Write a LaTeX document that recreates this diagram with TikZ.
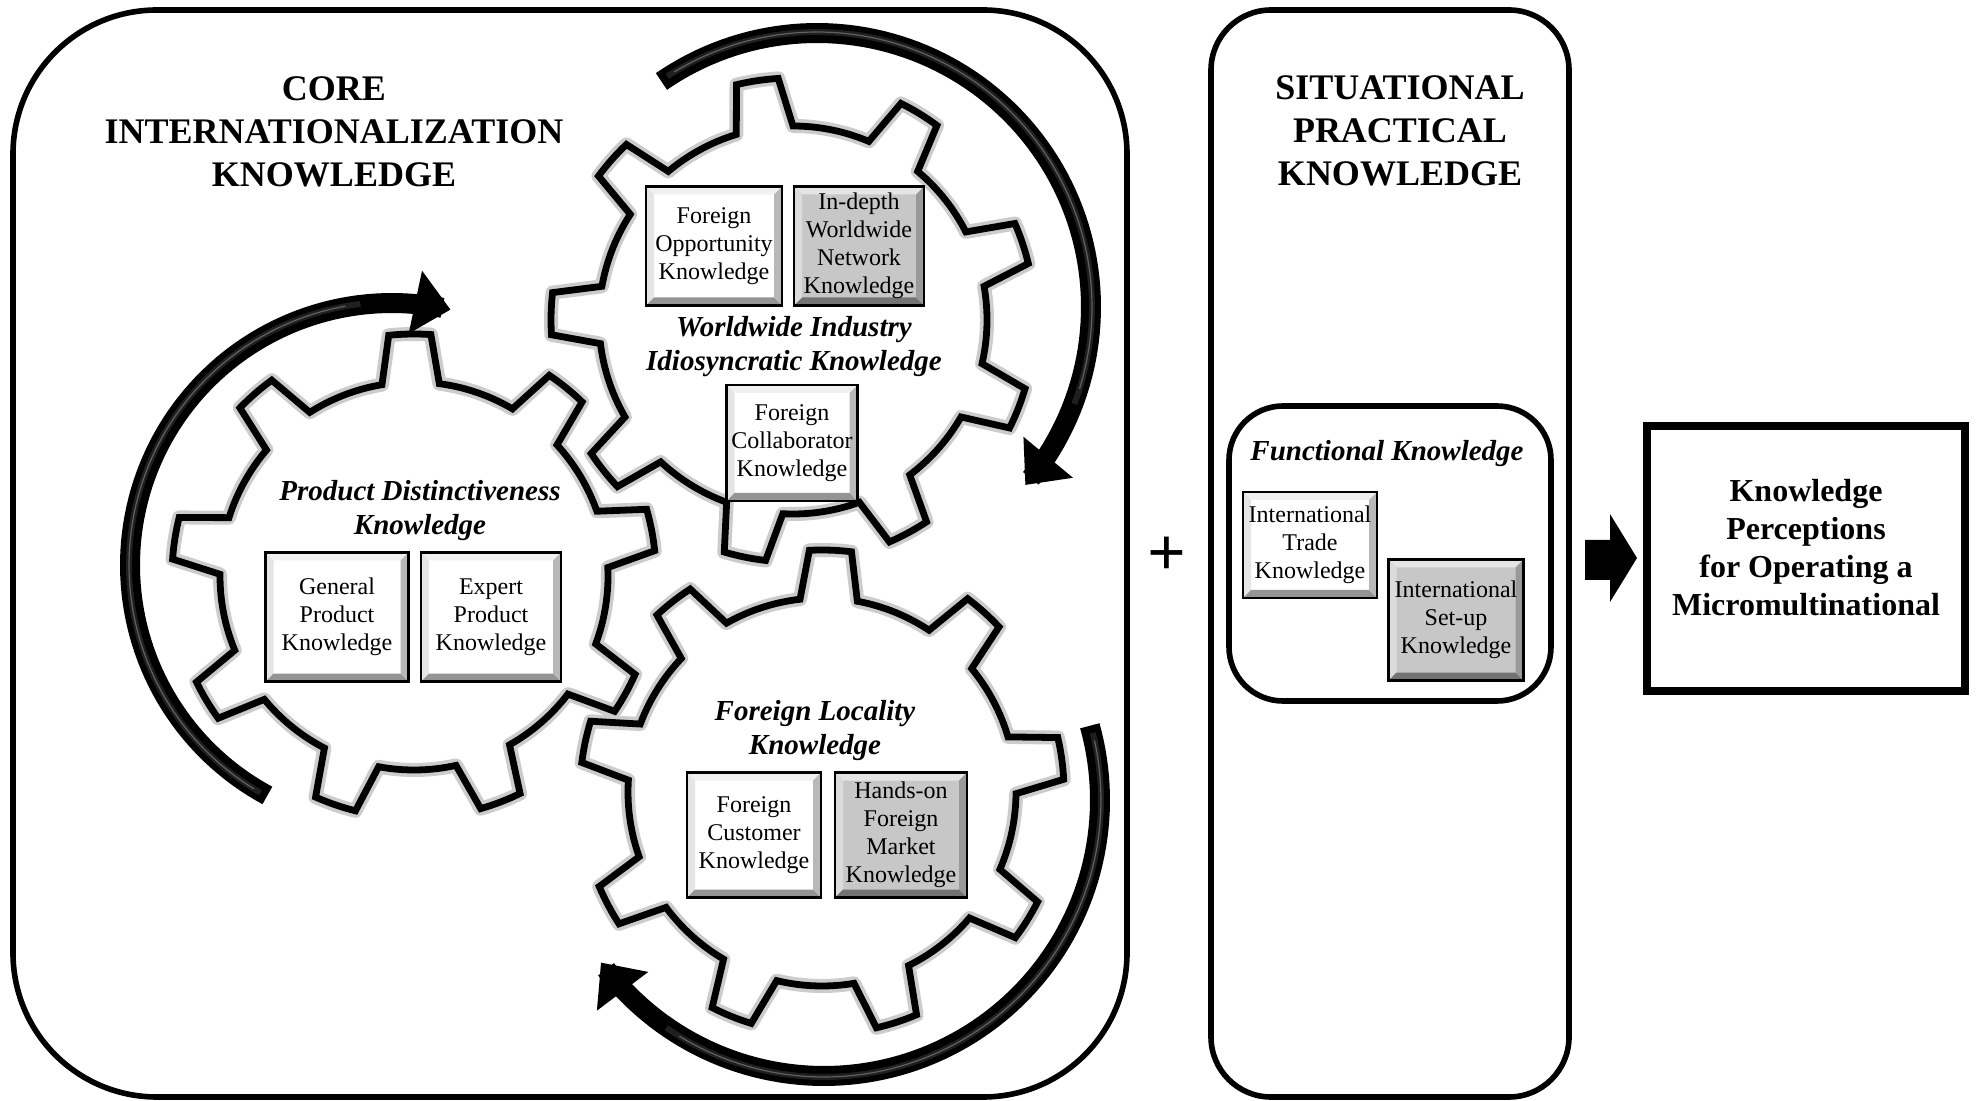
\documentclass[tikz,border=0pt]{standalone}
\usepackage{fontspec}
\setmainfont{Liberation Serif}
\usetikzlibrary{arrows.meta,bending}

\newcommand{\bevelpic}[4]{%
 \path (path picture bounding box.south west) coordinate (bSW)
       (path picture bounding box.south east) coordinate (bSE)
       (path picture bounding box.north west) coordinate (bNW)
       (path picture bounding box.north east) coordinate (bNE);
 \fill[#1] (bNW) -- (bNE) -- ([shift={(-4pt,-4pt)}]bNE) -- ([shift={(4pt,-4pt)}]bNW) -- cycle;
 \fill[#2] (bSW) -- (bNW) -- ([shift={(4pt,-4pt)}]bNW) -- ([shift={(4pt,4pt)}]bSW) -- cycle;
 \fill[#3] (bSW) -- (bSE) -- ([shift={(-4pt,4pt)}]bSE) -- ([shift={(4pt,4pt)}]bSW) -- cycle;
 \fill[#4] (bSE) -- (bNE) -- ([shift={(-4pt,-4pt)}]bNE) -- ([shift={(-4pt,4pt)}]bSE) -- cycle;
}

% gear: #1 centre, #2 tooth offset angle, #3 path options
\newcommand{\mkgear}[3]{%
 \begin{scope}[shift={#1}]
 \path[#3] ({#2-8.5}:194)
   \foreach \k in {0,...,8}{
     -- ({#2+40*\k-5}:242)
     arc[start angle={#2+40*\k-5}, end angle={#2+40*\k+5}, radius=242]
     -- ({#2+40*\k+8.5}:194)
     arc[start angle={#2+40*\k+8.5}, end angle={#2+40*\k+31.5}, radius=194]
   } -- cycle;
 \end{scope}}

% curved band arrow: #1 cx, #2 cy, #3 r, #4 start angle, #5 end angle
\newcommand{\bandarrow}[5]{%
 \draw[line width=10pt, black, -{Triangle[width=31pt,length=18pt]}]
   plot[domain=0:1, samples=90, variable=\t]
   ({#1+#3*cos(#4+(#5-#4)*\t)}, {#2-#3*sin(#4+(#5-#4)*\t)});
 \draw[line width=3pt, black!88]
   plot[domain=0.01:0.88, samples=80, variable=\t]
   ({#1+(#3+1)*cos(#4+(#5-#4)*\t)}, {#2-(#3+1)*sin(#4+(#5-#4)*\t)});
 \draw[line width=0.6pt, black!62]
   plot[domain=0.02:0.86, samples=80, variable=\t]
   ({#1+(#3+1)*cos(#4+(#5-#4)*\t)}, {#2-(#3+1)*sin(#4+(#5-#4)*\t)});
}

\tikzset{
 frame/.style={draw=black, line width=2.8pt},
 kbox/.style={draw=black, line width=1.4pt, fill=white, align=center, inner sep=1pt,
   font=\fontsize{12}{14}\selectfont,
   path picture={\bevelpic{black!6}{black!10}{black!42}{black!28}}},
 kboxg/.style={kbox, fill=black!22,
   path picture={\bevelpic{black!10}{black!14}{black!55}{black!40}}},
 gtitle/.style={align=center, font=\fontsize{14.5}{17}\selectfont\bfseries\itshape},
 htitle/.style={align=center, font=\fontsize{18}{21.5}\selectfont\bfseries},
}

\begin{document}
\begin{tikzpicture}[x=0.5pt,y=-0.5pt]
\useasboundingbox (0,0) rectangle (1977,1101);
\fill[white] (0,0) rectangle (1977,1101);

% frames
\draw[frame, rounded corners=72pt] (13,10) rectangle (1127,1097);
\draw[frame, rounded corners=30pt] (1211,10) rectangle (1569,1097);
\draw[frame, rounded corners=27pt] (1229,406) rectangle (1551,701);

% titles
\node[htitle] (coretitle) at (334,132) {CORE\\INTERNATIONALIZATION\\KNOWLEDGE};
\node[htitle] (sittitle) at (1400,131) {SITUATIONAL\\PRACTICAL\\KNOWLEDGE};

% gears
\mkgear{(793,320)}{-98.5}{fill=white}
\mkgear{(414,576)}{-91}{fill=white}
\mkgear{(822,792)}{-88}{fill=white}
\mkgear{(793,320)}{-98.5}{draw=black!20, line width=7pt, line join=round}
\mkgear{(414,576)}{-91}{draw=black!20, line width=7pt, line join=round}
\mkgear{(822,792)}{-88}{draw=black!20, line width=7pt, line join=round}
\mkgear{(793,320)}{-98.5}{draw=black, line width=3.4pt, line join=miter}
\mkgear{(414,576)}{-91}{draw=black, line width=3.4pt, line join=miter}
\mkgear{(822,792)}{-88}{draw=black, line width=3.4pt, line join=miter}

% curved arrows
\bandarrow{817}{307}{274}{124.6}{-40.6}
\bandarrow{392}{565}{262}{241.6}{77}
\bandarrow{824}{800}{276}{15.6}{-144}

% gear 1
\node[kbox, minimum width=68pt, minimum height=59.5pt] (fok) at (714,246) {Foreign\\Opportunity\\Knowledge};
\node[kboxg, minimum width=65pt, minimum height=59.5pt] (iwn) at (859,246) {In-depth\\Worldwide\\Network\\Knowledge};
\node[gtitle] (wit) at (794,347) {Worldwide Industry\\Idiosyncratic Knowledge};
\node[kbox, minimum width=65.5pt, minimum height=58pt] (fck) at (792,443) {Foreign\\Collaborator\\Knowledge};

% gear 2
\node[gtitle] (pdt) at (420,511) {Product Distinctiveness\\Knowledge};
\node[kbox, minimum width=71.5pt, minimum height=64.5pt] (gpk) at (337,617) {General\\Product\\Knowledge};
\node[kbox, minimum width=70pt, minimum height=64.5pt] (epk) at (491,617) {Expert\\Product\\Knowledge};

% gear 3
\node[gtitle] (flt) at (815,731) {Foreign Locality\\Knowledge};
\node[kbox, minimum width=67pt, minimum height=62.5pt] (fcu) at (754,835) {Foreign\\Customer\\Knowledge};
\node[kboxg, minimum width=66pt, minimum height=62.5pt] (hfm) at (901,835) {Hands-on\\Foreign\\Market\\Knowledge};

% plus
\node[font=\fontsize{34}{34}\selectfont\bfseries] (plus) at (1167,556) {+};

% functional knowledge
\node[gtitle] (fkt) at (1387,454) {Functional Knowledge};
\node[kbox, minimum width=67pt, minimum height=53pt] (itk) at (1310,545) {International\\Trade\\Knowledge};
\node[kboxg, minimum width=67.5pt, minimum height=60.5pt] (isk) at (1456,620) {International\\Set-up\\Knowledge};

% result
\node[draw=black, line width=4pt, fill=white, minimum width=159pt, minimum height=132.5pt] (res) at (1806,558.5) {};
\node[align=center, font=\fontsize{16}{19}\selectfont\bfseries] (restext) at (1806,548)
  {Knowledge\\Perceptions\\for Operating a\\Micromultinational};

% block arrow
\fill[black] (1585,540) -- (1610,540) -- (1610,514) -- (1637,558) -- (1610,602) -- (1610,580) -- (1585,580) -- cycle;
\end{tikzpicture}
\end{document}
